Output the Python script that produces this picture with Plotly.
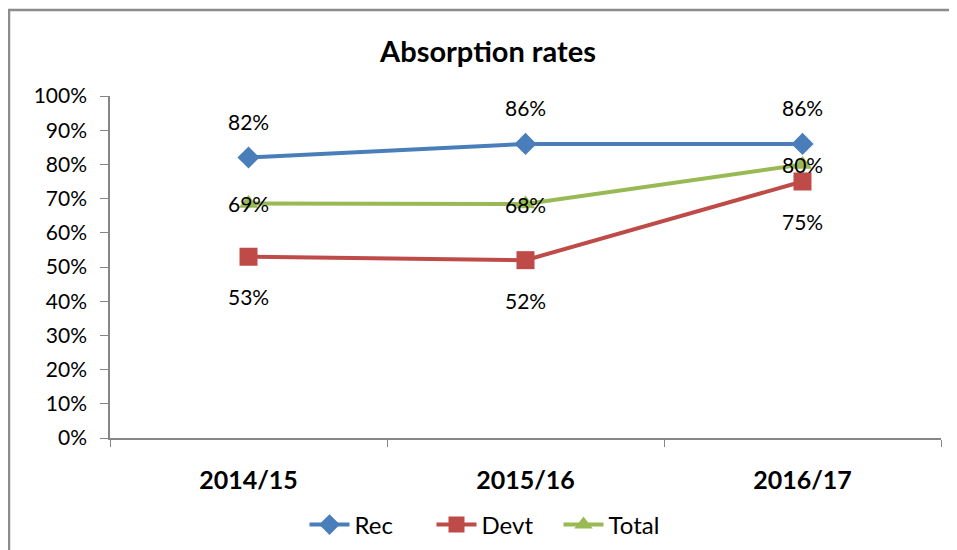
import plotly.graph_objects as go

categories = ["2014/15", "2015/16", "2016/17"]
rec = [0.82, 0.86, 0.86]
devt = [0.53, 0.52, 0.75]
total = [0.686, 0.684, 0.80]
y_ticks = [i / 10 for i in range(11)]
y_tick_labels = [f"{i * 10}%" for i in range(11)]

FONT = "Lato"
C_REC = "#4a7ebb"
C_DEVT = "#be4b48"
C_TOT = "#98b954"

OFF = 8  # page body margin
W, H = 957 - OFF, 550 - OFF
# plot area in window pixels: x 110..941, y 96..438
L = 110 - OFF
R = W - (941 - OFF)
T = 96 - OFF
B = H - (438 - OFF)
pw, ph = W - L - R, H - T - B


def px_x(wx):
    return (wx - OFF - L) / pw


def px_y(wy):
    return ((438 - OFF) - (wy - OFF)) / ph


fig = go.Figure()
fig.add_trace(go.Scatter(x=categories, y=rec, name="Rec", mode="lines+markers",
                         line=dict(color=C_REC, width=4),
                         marker=dict(symbol="diamond", size=17, color=C_REC)))
fig.add_trace(go.Scatter(x=categories, y=devt, name="Devt", mode="lines+markers",
                         line=dict(color=C_DEVT, width=4),
                         marker=dict(symbol="square", size=18, color=C_DEVT)))
fig.add_trace(go.Scatter(x=categories, y=total, name="Total", mode="lines+markers",
                         line=dict(color=C_TOT, width=4),
                         marker=dict(symbol="triangle-up", size=17, color=C_TOT)))

annos = []
for series, shift in ((rec, 36), (devt, -40), (total, 0)):
    for c, v in zip(categories, series):
        annos.append(dict(x=c, y=v, xref="x", yref="y", text=f"{round(v * 100)}%",
                          showarrow=False, yshift=shift,
                          font=dict(family=FONT, size=21, color="#000000")))

fig.update_layout(
    width=W, height=H,
    margin=dict(l=L, r=R, t=T, b=B, pad=0, autoexpand=False),
    paper_bgcolor="white", plot_bgcolor="white",
    title=dict(text="<b>Absorption rates</b>", x=(488 - OFF) / W, xanchor="center",
               y=1 - (52 - OFF) / H, yanchor="middle",
               font=dict(family=FONT, size=29, color="#000000")),
    showlegend=True,
    legend=dict(orientation="h", xref="container", yref="container",
                x=(495 - OFF) / W, xanchor="center",
                y=1 - (525 - OFF) / H, yanchor="middle",
                font=dict(family=FONT, size=24, color="#000000"),
                itemwidth=40, tracegroupgap=0,
                entrywidth=72, entrywidthmode="pixels"),
    annotations=annos,
    shapes=[dict(type="rect", xref="paper", yref="paper",
                 x0=px_x(9), x1=px_x(975),
                 y0=px_y(570), y1=px_y(10),
                 line=dict(color="#8c8c8c", width=2.5), fillcolor="rgba(0,0,0,0)",
                 layer="below")],
)
fig.update_xaxes(type="category", range=[-0.5, 2.5], showgrid=False,
                 showline=True, linecolor="#868686", linewidth=1.5,
                 ticks="outside", tickson="boundaries", ticklen=7, tickcolor="#868686",
                 tickfont=dict(family=FONT, size=25, color="#000000", weight="bold"),
                 ticklabelstandoff=19, zeroline=False)
fig.update_yaxes(range=[0, 1], tickvals=y_ticks, ticktext=y_tick_labels,
                 showgrid=False, zeroline=False,
                 showline=True, linecolor="#868686", linewidth=1.5,
                 ticks="outside", ticklen=8, tickcolor="#868686",
                 tickfont=dict(family=FONT, size=21, color="#000000"),
                 ticklabelstandoff=9)

fig.write_html("out.html")
